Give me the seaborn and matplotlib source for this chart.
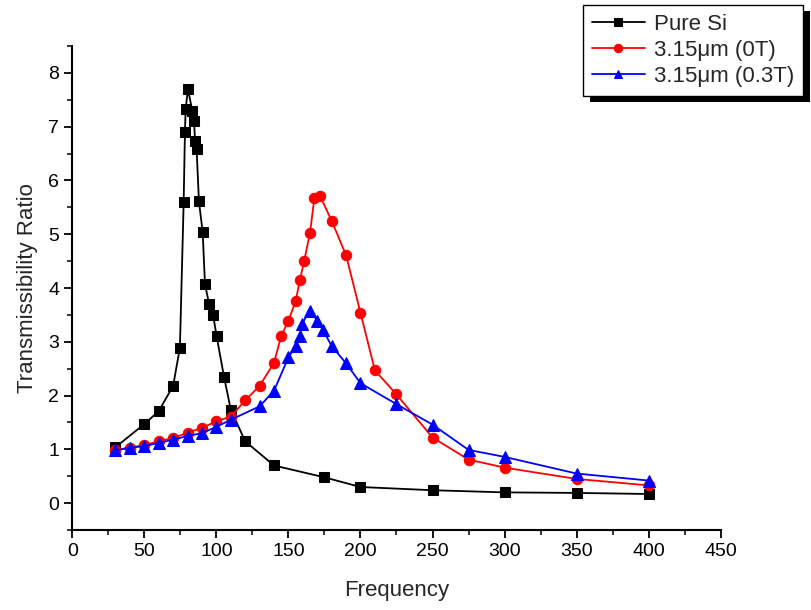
import numpy as np
import pandas as pd
import seaborn as sns
import matplotlib.pyplot as plt
from matplotlib.patches import Rectangle
from matplotlib.ticker import MultipleLocator

# Pure Si
si_freq = [30, 50, 60, 70, 74.7, 77.3, 78.2, 78.7, 80.3, 83.3, 84.5, 85.2, 86.3,
           87.9, 90.5, 92.1, 94.9, 97.8, 100.2, 105.3, 110, 120, 140, 175, 200,
           250, 300, 350, 400]
si_ratio = [1.04, 1.47, 1.71, 2.18, 2.89, 5.59, 6.91, 7.33, 7.70, 7.29, 7.11, 6.73, 6.58,
            5.61, 5.04, 4.07, 3.71, 3.49, 3.10, 2.35, 1.74, 1.15, 0.70, 0.48, 0.30,
            0.24, 0.20, 0.19, 0.17]

# 3.15um, 0T
t0_freq = [30, 40, 50, 60, 70, 80, 90, 100, 110, 120, 130, 140, 145, 150, 155, 158,
           161, 165, 168, 172, 180, 190, 200, 210, 225, 250, 275, 300, 350, 400]
t0_ratio = [0.99, 1.03, 1.08, 1.15, 1.21, 1.31, 1.40, 1.52, 1.61, 1.91, 2.18, 2.61,
            3.11, 3.39, 3.76, 4.15, 4.51, 5.03, 5.67, 5.71, 5.25, 4.61, 3.54, 2.47,
            2.02, 1.22, 0.81, 0.66, 0.45, 0.33]

# 3.15um, 0.3T
t3_freq = [30, 40, 50, 60, 70, 80, 90, 100, 110, 130, 140, 150, 155, 158, 159.5, 165,
           170, 174, 180, 190, 200, 225, 250, 275, 300, 350, 400]
t3_ratio = [0.98, 1.03, 1.06, 1.12, 1.18, 1.25, 1.30, 1.42, 1.55, 1.80, 2.09, 2.71,
            2.92, 3.11, 3.34, 3.58, 3.39, 3.22, 2.92, 2.60, 2.23, 1.84, 1.46, 0.99,
            0.86, 0.55, 0.42]

labels = ["Pure Si", "3.15\u03bcm (0T)", "3.15\u03bcm (0.3T)"]

sns.set_style("ticks")
plt.rcParams['font.family'] = ['Liberation Sans', 'DejaVu Sans']

fig = plt.figure(figsize=(8.11, 6.10), dpi=100)
ax = fig.add_axes([0.0891, 0.1311, 0.7996, 0.7935])

sns.lineplot(x=si_freq, y=si_ratio, ax=ax, color='black', marker='s', markersize=6.5,
             markeredgecolor='black', linewidth=1.3, estimator=None, label=labels[0])
sns.lineplot(x=t0_freq, y=t0_ratio, ax=ax, color='#ff0000', marker='o', markersize=7.5,
             markeredgecolor='#ff0000', linewidth=1.3, estimator=None, label=labels[1])
sns.lineplot(x=t3_freq, y=t3_ratio, ax=ax, color='#0000ff', marker='^', markersize=8.5,
             markeredgecolor='#0000ff', linewidth=1.3, estimator=None, label=labels[2])

ax.set_xlim(0, 450)
ax.set_ylim(-0.5, 8.5)
ax.xaxis.set_major_locator(MultipleLocator(50))
ax.xaxis.set_minor_locator(MultipleLocator(25))
ax.yaxis.set_major_locator(MultipleLocator(1))
ax.yaxis.set_minor_locator(MultipleLocator(0.5))
ax.tick_params(which='major', direction='out', length=6, width=1.3, labelsize=14, colors='black')
ax.tick_params(which='minor', direction='out', length=3.5, width=1.3)
for s in ['left', 'bottom']:
    ax.spines[s].set_linewidth(1.5)
    ax.spines[s].set_color('black')
sns.despine(ax=ax)

ax.set_xlabel("Frequency", fontsize=16, labelpad=14)
ax.set_ylabel("Transmissibility Ratio", fontsize=16, labelpad=7)

leg = ax.legend(loc='upper right', bbox_to_anchor=(803 / 811, 1 - 5 / 610),
                bbox_transform=fig.transFigure, borderaxespad=0, fontsize=16,
                frameon=True, fancybox=False, edgecolor='black', framealpha=1,
                handlelength=2.4, labelspacing=0.22, borderpad=0.4, handletextpad=0.4,
                numpoints=1)
leg.get_frame().set_linewidth(1.0)
leg.set_zorder(10)
for h in leg.legend_handles:
    h.set_markersize(6)

# black drop shadow behind legend box
fig.canvas.draw()
bb = leg.get_window_extent().transformed(fig.transFigure.inverted())
dx, dy = 7 / 811, 6 / 610
ax.add_patch(Rectangle((bb.x0 + dx, bb.y0 - dy), bb.width, bb.height,
                       transform=fig.transFigure, facecolor='black',
                       edgecolor='none', zorder=9, clip_on=False))

fig.savefig("out.png", dpi=100)
